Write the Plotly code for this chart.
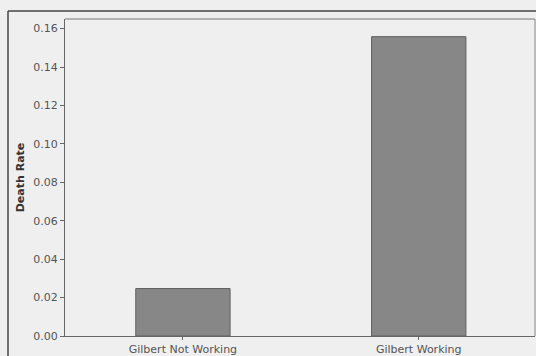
import plotly.graph_objects as go

categories = ["Gilbert Not Working", "Gilbert Working"]
death_rate = [0.0247, 0.1558]
y_ticks = [0.00, 0.02, 0.04, 0.06, 0.08, 0.10, 0.12, 0.14, 0.16]

W, H = 536, 356
L, R, T, B = 65, 1, 19, 20
pw, ph = W - L - R, H - T - B

fig = go.Figure(go.Bar(
    x=[0, 1], y=death_rate, width=0.4,
    marker=dict(color="#878787", line=dict(color="#5f5f5f", width=1)),
))

fig.update_layout(
    width=W, height=H,
    margin=dict(l=L, r=R, t=T, b=B),
    paper_bgcolor="#efefef", plot_bgcolor="#efefef",
    showlegend=False,
    font=dict(family="DejaVu Sans", color="#555555", size=11),
    xaxis=dict(range=[-0.5, 1.493], tickvals=[0, 1], ticktext=categories,
               showgrid=False, zeroline=False, showline=True, linecolor="#666666",
               linewidth=1, ticks="outside", ticklen=3, tickcolor="#666666",
               tickfont=dict(size=11, color="#555555"), mirror=False),
    yaxis=dict(range=[0, 0.165], tickvals=y_ticks, tickformat=".2f",
               showgrid=False, zeroline=False, showline=True, linecolor="#666666",
               linewidth=1, ticks="outside", ticklen=4, tickcolor="#666666",
               tickfont=dict(size=11, color="#555555"),
               title=dict(text="<b>Death Rate</b>", font=dict(size=11, color="#333333"), standoff=6)),
    shapes=[
        # plot area box (top and right)
        dict(type="line", xref="paper", yref="paper", x0=0, x1=1, y0=1, y1=1,
             line=dict(color="#777777", width=1)),
        dict(type="line", xref="paper", yref="paper", x0=1, x1=1, y0=0, y1=1,
             line=dict(color="#888888", width=1)),
        # outer frame
        dict(type="line", xref="paper", yref="paper",
             x0=(8 - L) / pw, x1=(W - L) / pw, y0=(H - B - 11) / ph, y1=(H - B - 11) / ph,
             line=dict(color="#444444", width=1.5)),
        dict(type="line", xref="paper", yref="paper",
             x0=(8 - L) / pw, x1=(8 - L) / pw, y0=-B / ph, y1=(H - B - 11) / ph,
             line=dict(color="#444444", width=1.5)),
    ],
)

fig.write_html(
    "out.html",
    config={"displayModeBar": False},
    post_script="document.body.style.margin='0';document.body.style.background='#efefef';document.body.style.overflow='hidden';",
)
